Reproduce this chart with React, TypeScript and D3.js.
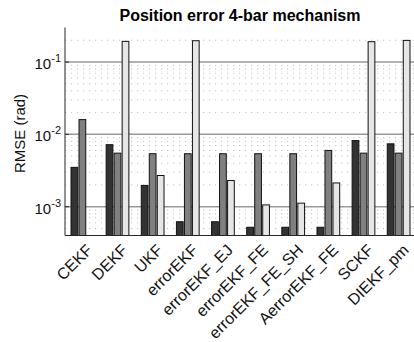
import React from 'react';
import * as d3 from 'd3';

// categories and RMSE values (rad), three filters per category
const categories = ['CEKF', 'DEKF', 'UKF', 'errorEKF', 'errorEKF_EJ', 'errorEKF_FE', 'errorEKF_FE_SH', 'AerrorEKF_FE', 'SCKF', 'DIEKF_pm'];
const series1 = [0.0035, 0.0072, 0.00197, 0.00062, 0.00062, 0.00052, 0.00052, 0.00052, 0.0082, 0.0074];
const series2 = [0.016, 0.0055, 0.0054, 0.0054, 0.0054, 0.0054, 0.0054, 0.006, 0.0055, 0.0055];
const series3 = [null, 0.193, 0.0027, 0.197, 0.0023, 0.00106, 0.00112, 0.00213, 0.191, 0.199];
const yTicks = [-3, -2, -1];
const seriesColors = ['#333333', '#808080', '#e6e6e6'];

const W = 414;
const H = 342;
const margin = { top: 27.5, right: -2, bottom: 106.5, left: 65 };
const font = '"Liberation Sans", Arial, Helvetica, sans-serif';

const App = () => {
  const innerBottom = H - margin.bottom;
  const innerRight = W - margin.right;

  const x0 = d3.scaleBand<string>()
    .domain(categories)
    .range([margin.left, innerRight])
    .paddingInner(0.353)
    .paddingOuter(0.171);

  const x1 = d3.scaleBand<number>()
    .domain([0, 1, 2])
    .range([0, x0.bandwidth()])
    .paddingInner(0.16);

  const y = d3.scaleLog()
    .domain([4e-4, 0.3])
    .range([innerBottom, margin.top]);

  const allSeries = [series1, series2, series3];

  // minor grid values (2..9 per decade) inside the domain
  const minor: number[] = [];
  [-4, -3, -2, -1].forEach(e => {
    for (let m = 2; m <= 9; m++) {
      const v = m * Math.pow(10, e);
      if (v >= 4e-4 && v <= 0.3) minor.push(v);
    }
  });

  return (
    <svg width={W} height={H} style={{ position: 'absolute', left: 0, top: 0, background: '#fff' }} fontFamily={font}>
      <rect x={0} y={0} width={W} height={H} fill="#fff" />
      {/* minor grid */}
      {minor.map(v => (
        <line key={'m' + v} x1={margin.left} x2={innerRight} y1={y(v)} y2={y(v)}
          stroke="#c4c4c4" strokeWidth={1} strokeDasharray="1.2,4.8" />
      ))}
      {/* major grid */}
      {yTicks.map(e => (
        <line key={'g' + e} x1={margin.left} x2={innerRight} y1={y(Math.pow(10, e))} y2={y(Math.pow(10, e))}
          stroke="#9a9a9a" strokeWidth={1.5} />
      ))}
      {/* bars */}
      {categories.map((c, i) => (
        <g key={c} transform={`translate(${x0(c)},0)`}>
          {allSeries.map((s, k) => {
            const v = s[i];
            if (v == null) return null;
            const top = y(v);
            return (
              <rect key={k} x={x1(k)} y={top} width={x1.bandwidth()} height={innerBottom - top}
                fill={seriesColors[k]} stroke="#111" strokeWidth={1} />
            );
          })}
        </g>
      ))}
      {/* axes lines */}
      <line x1={margin.left} x2={margin.left} y1={margin.top} y2={innerBottom} stroke="#262626" strokeWidth={1} />
      <line x1={margin.left} x2={innerRight} y1={innerBottom} y2={innerBottom} stroke="#262626" strokeWidth={1} />
      {/* y ticks */}
      {yTicks.map(e => {
        const yy = y(Math.pow(10, e));
        return (
          <g key={'t' + e}>
            <line x1={margin.left} x2={margin.left + 4} y1={yy} y2={yy} stroke="#262626" />
            <text x={61} y={yy + 7} textAnchor="end" fontSize={15} fill="#111">
              <tspan>10</tspan>
              <tspan dy={-7} fontSize={11}>{`-${-e}`}</tspan>
            </text>
          </g>
        );
      })}
      {/* x tick labels */}
      {categories.map(c => {
        const cx = (x0(c) as number) + x0.bandwidth() / 2;
        return (
          <text key={'l' + c} transform={`translate(${cx + 11},${innerBottom + 15.5}) rotate(-45)`}
            textAnchor="end" fontSize={16} fill="#111">{c}</text>
        );
      })}
      {/* y label */}
      <text transform={`translate(25,${(margin.top + innerBottom) / 2 + 2}) rotate(-90)`} textAnchor="middle"
        fontSize={15} fill="#111">RMSE (rad)</text>
      {/* title */}
      <text x={240} y={21} textAnchor="middle" fontSize={16} fontWeight="bold" fill="#000">
        Position error 4-bar mechanism
      </text>
    </svg>
  );
};

export default App;
